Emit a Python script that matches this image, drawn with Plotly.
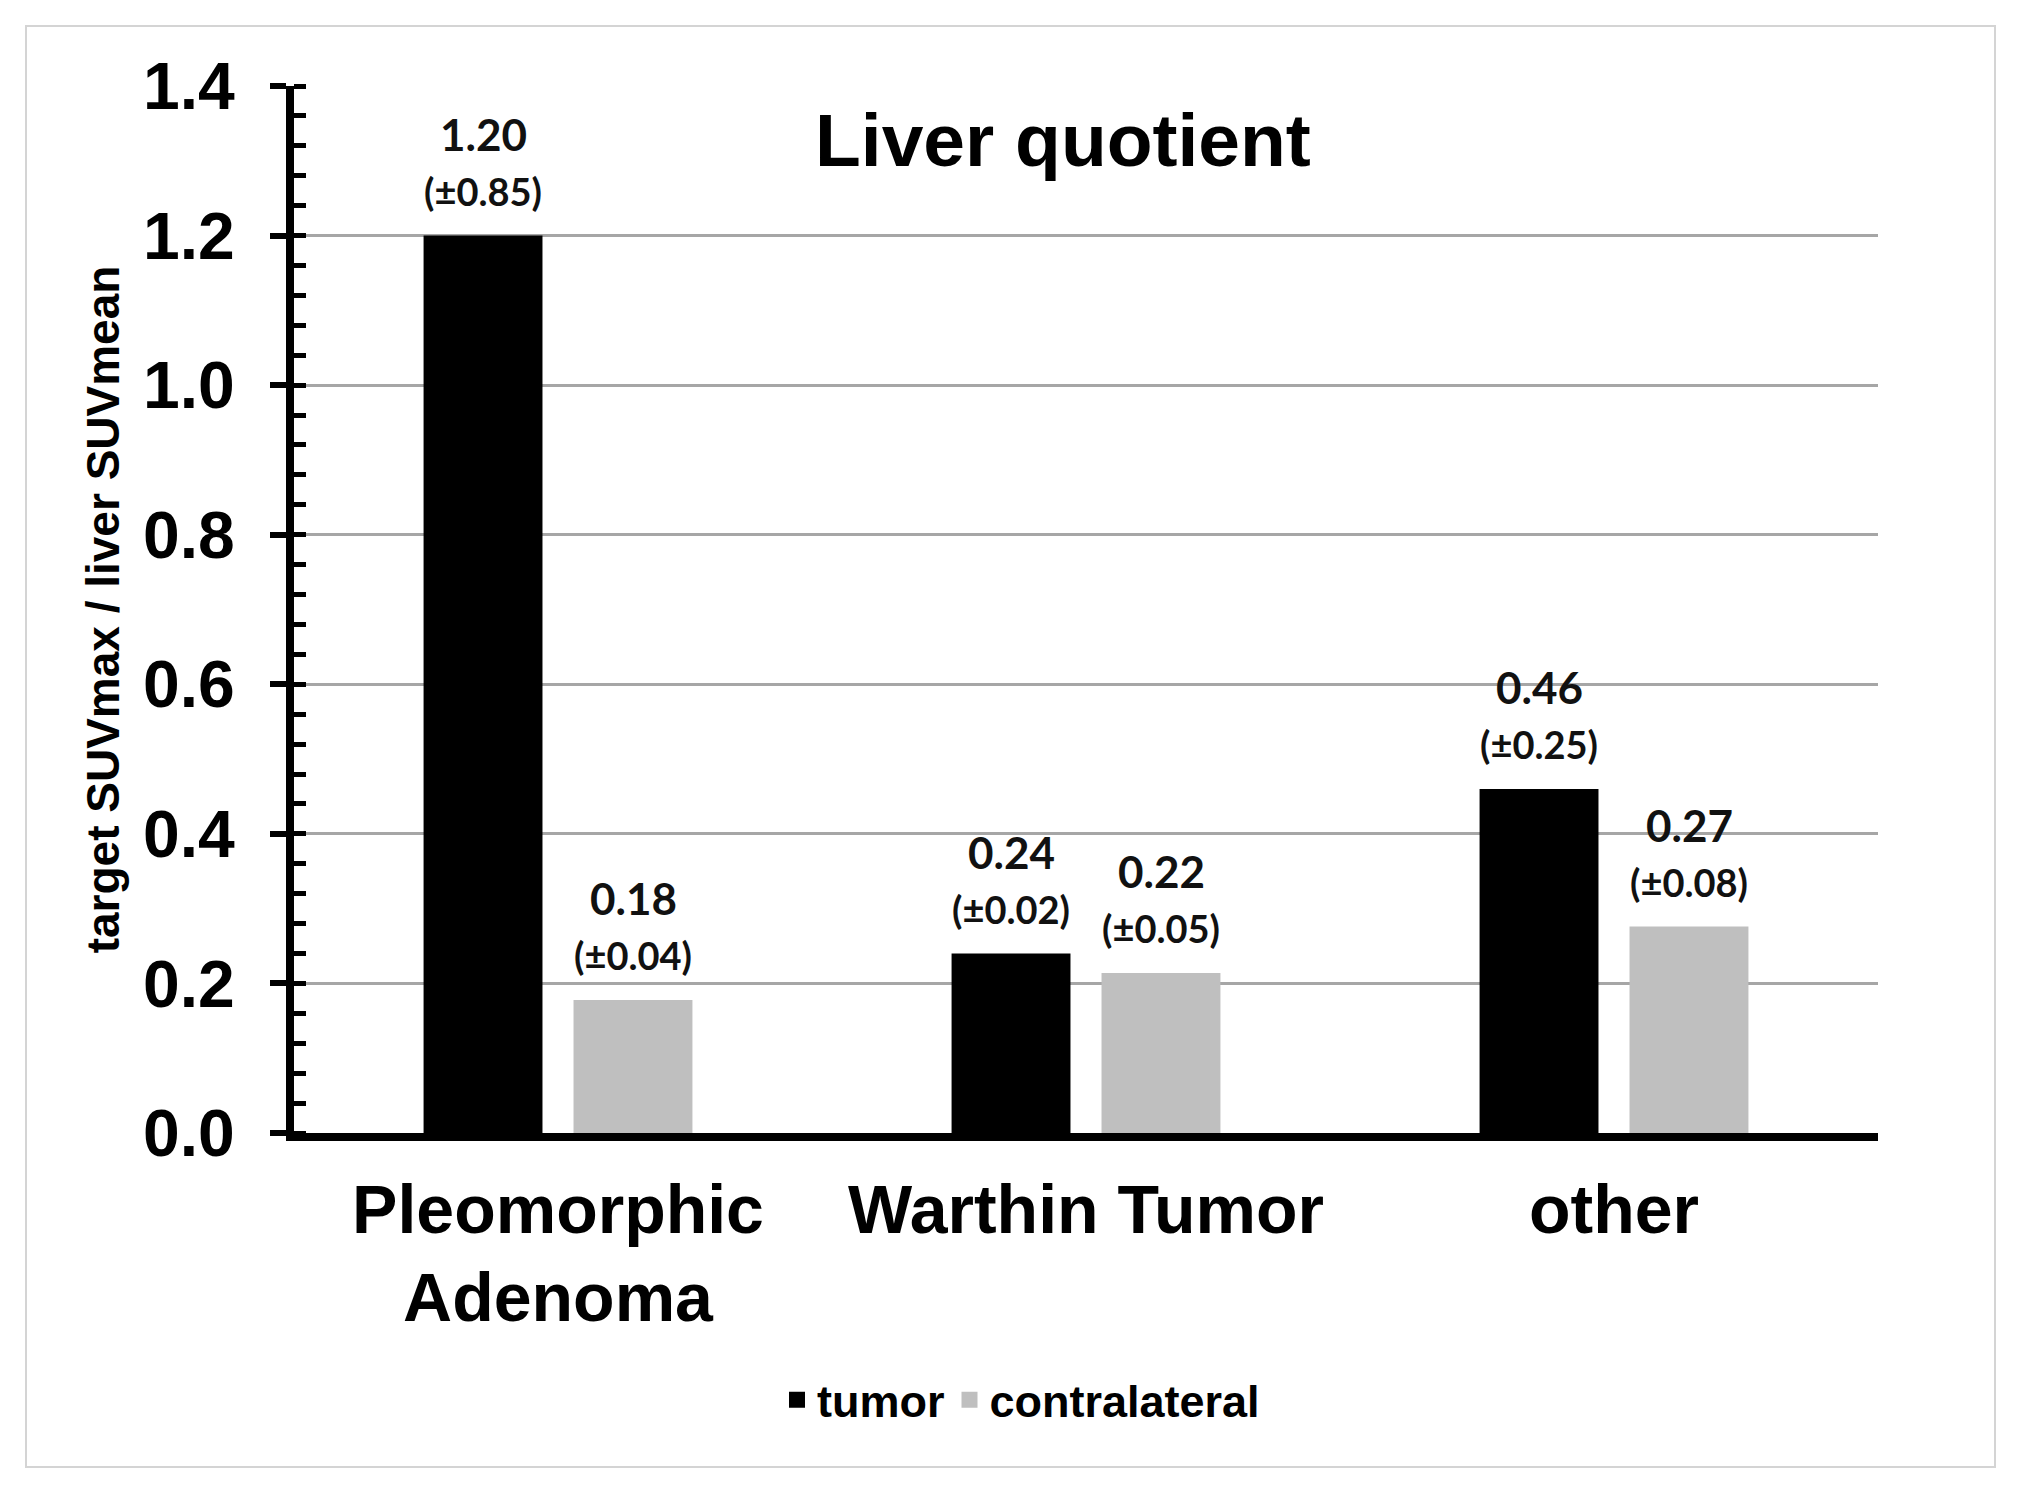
import plotly.graph_objects as go

categories = ["Pleomorphic<br>Adenoma", "Warthin Tumor", "other"]
tumor_vals = [1.20, 0.24, 0.46]
contra_vals = [0.178, 0.214, 0.276]
tumor_mean_lbl = ["1.20", "0.24", "0.46"]
tumor_sd_lbl = ["(±0.85)", "(±0.02)", "(±0.25)"]
contra_mean_lbl = ["0.18", "0.22", "0.27"]
contra_sd_lbl = ["(±0.04)", "(±0.05)", "(±0.08)"]
series_names = ["tumor", "contralateral"]
colors = ["#000000", "#bfbfbf"]

W, H = 2021, 1492
OFF = 8  # page body margin compensation
ML, MR, MT, MB = 294 - OFF, 143 + OFF, 86 - OFF, 359 + OFF
PW, PH = W - ML - MR, H - MT - MB

def px_x(xp):
    return (xp - OFF - ML) / PW

def px_y(yp):
    return (H - MB - (yp - OFF)) / PH

fig = go.Figure()
fig.add_trace(go.Bar(x=categories, y=tumor_vals, name=series_names[0], showlegend=False,
                     marker=dict(color=colors[0], line=dict(width=0))))
fig.add_trace(go.Bar(x=categories, y=contra_vals, name=series_names[1], showlegend=False,
                     marker=dict(color=colors[1], line=dict(width=0))))
for nm, col in zip(series_names, colors):
    fig.add_trace(go.Scatter(x=[None], y=[None], mode="markers", name=nm,
                             marker=dict(symbol="square", size=16, color=col)))

lblfont = "Lato, Open Sans, sans-serif"
ann = []
for vals, means, sds, shift in [(tumor_vals, tumor_mean_lbl, tumor_sd_lbl, -75),
                                (contra_vals, contra_mean_lbl, contra_sd_lbl, 75)]:
    for c, v, m, s in zip(categories, vals, means, sds):
        ann.append(dict(x=c, y=v, xref="x", yref="y", text=s, showarrow=False,
                        xshift=shift, yshift=20, yanchor="bottom",
                        font=dict(family=lblfont, size=38, color="#111", weight="bold")))
        ann.append(dict(x=c, y=v, xref="x", yref="y", text=m, showarrow=False,
                        xshift=shift, yshift=74, yanchor="bottom",
                        font=dict(family=lblfont, size=44, color="#111", weight="bold")))

ann.append(dict(x=px_x(1063), y=px_y(140), xref="paper", yref="paper",
                text="Liver quotient", showarrow=False, xanchor="center", yanchor="middle",
                font=dict(family="Liberation Sans, Arial, sans-serif", size=75,
                          color="#000", weight="bold")))

fig.update_layout(
    width=W, height=H,
    margin=dict(l=ML, r=MR, t=MT, b=MB, autoexpand=False),
    paper_bgcolor="white", plot_bgcolor="white",
    barmode="group", bargap=0.432, bargroupgap=0.207,
    annotations=ann,
    showlegend=True,
    legend=dict(orientation="h", x=px_x(1021), xanchor="center", y=px_y(1400), yanchor="middle",
                font=dict(family="Liberation Sans, Arial, sans-serif", size=45,
                          color="#000", weight="bold"),
                itemwidth=30, tracegroupgap=0, bgcolor="rgba(0,0,0,0)"),
    shapes=[dict(type="rect", xref="paper", yref="paper",
                 x0=px_x(26), x1=px_x(1995),
                 y0=px_y(1467), y1=px_y(26),
                 line=dict(color="#d4d4d4", width=2), layer="below")],
)

fig.update_xaxes(
    showline=True, linecolor="#000", linewidth=8, ticks="", showgrid=False,
    tickfont=dict(family="Liberation Sans, Arial, sans-serif", size=68,
                  color="#000", weight="bold"),
    ticklabelstandoff=10,
    zeroline=False,
)
fig.update_yaxes(
    range=[0, 1.4], dtick=0.2, tickformat=".1f",
    showline=True, linecolor="#000", linewidth=8,
    ticks="outside", ticklen=16, tickwidth=6, tickcolor="#000",
    minor=dict(dtick=0.04, ticks="inside", ticklen=12, tickwidth=5, tickcolor="#000",
               showgrid=False),
    showgrid=True, gridcolor="#a6a6a6", gridwidth=3,
    zeroline=False,
    tickfont=dict(family="Liberation Sans, Arial, sans-serif", size=66,
                  color="#000", weight="bold"),
    ticklabelstandoff=22,
    title=dict(text="target SUVmax / liver SUVmean", standoff=12,
               font=dict(family="Liberation Sans, Arial, sans-serif", size=46,
                         color="#000", weight="bold")),
)

fig.write_html("out.html")
